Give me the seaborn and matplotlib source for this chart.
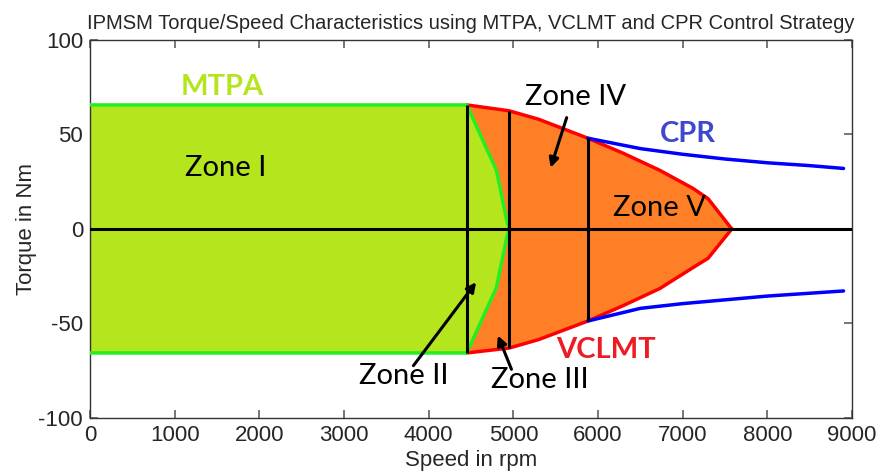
import numpy as np
import pandas as pd
import matplotlib.pyplot as plt
import seaborn as sns

# speed / torque readings
mtpa_speed = [0, 4450]
mtpa_torque = [65.6, 65.6]

# green MTPA boundary (zone II edge)
edge_speed = [4450, 4800, 4920, 4950]
edge_upper = [65.6, 31, 5, 0]
edge_lower = [-65.6, -31, -5, 0]

# VCLMT envelope
vclmt_speed = [4450, 4950, 5300, 5880, 6300, 6730, 7120, 7300, 7580]
vclmt_upper = [65.6, 62.5, 58, 48, 40, 31, 21.5, 16, 0]
vclmt_lower = [-65.6, -63, -58.5, -48.7, -40.5, -31.5, -20.5, -15.5, 0]

# CPR curves
cpr_speed = [5880, 6500, 7000, 7500, 8000, 8500, 8900]
cpr_upper = [48, 42.5, 39.5, 37, 35, 33.5, 32]
cpr_lower = [-48.7, -42, -39.5, -37.5, -35.5, -34, -32.8]

# zone borders
zone_speed = [4450, 4950, 5880]
zone_top = [65.6, 62.5, 48]
zone_bot = [-65.6, -63, -48.7]

sns.set_theme(style='white')
plt.rcParams['font.family'] = ['Liberation Sans', 'DejaVu Sans']
plt.rcParams['axes.unicode_minus'] = False

fig = plt.figure(figsize=(8.8, 4.75), dpi=100)
ax = fig.add_axes([0.1023, 0.12, 0.8659, 0.796])

green_fill = '#b5e61d'
orange_fill = '#ff7f27'

# orange zone (VCLMT region)
ax.fill_between(vclmt_speed, vclmt_lower, vclmt_upper, color=orange_fill, lw=0, zorder=1)
# green zone (MTPA region)
g_x = mtpa_speed + edge_speed[1:]
g_up = mtpa_torque + edge_upper[1:]
g_lo = [-v for v in mtpa_torque] + edge_lower[1:]
ax.fill_between(g_x, g_lo, g_up, color=green_fill, lw=0, zorder=2)

# outlines
sns.lineplot(x=vclmt_speed, y=vclmt_upper, color='#ff0000', lw=2.5, sort=False, ax=ax, zorder=3)
sns.lineplot(x=vclmt_speed, y=vclmt_lower, color='#ff0000', lw=2.5, sort=False, ax=ax, zorder=3)
sns.lineplot(x=cpr_speed, y=cpr_upper, color='#0000ff', lw=2.5, sort=False, ax=ax, zorder=3)
sns.lineplot(x=cpr_speed, y=cpr_lower, color='#0000ff', lw=2.5, sort=False, ax=ax, zorder=3)
sns.lineplot(x=g_x, y=g_up, color='#22ee22', lw=2.5, sort=False, ax=ax, zorder=4)
sns.lineplot(x=g_x, y=g_lo, color='#22ee22', lw=2.5, sort=False, ax=ax, zorder=4)

# zone borders and zero line
ax.vlines(zone_speed, zone_bot, zone_top, color='black', lw=2.2, zorder=5)
ax.axhline(0, color='black', lw=2.2, zorder=5)

ax.set_xlim(0, 9000)
ax.set_ylim(-100, 100)
ax.set_xticks(np.arange(0, 9001, 1000))
ax.set_yticks([-100, -50, 0, 50, 100])
ax.tick_params(direction='in', length=6, color='#666666', labelsize=16,
               top=True, right=True, bottom=True, left=True)
ax.tick_params(axis='x', pad=5)
ax.tick_params(axis='y', pad=5)
for s in ax.spines.values():
    s.set_color('#333333')
    s.set_linewidth(1)

ax.set_xlabel('Speed in rpm', fontsize=16, labelpad=3)
ax.set_ylabel('Torque in Nm', fontsize=16, labelpad=1)
ax.set_title('IPMSM Torque/Speed Characteristics using MTPA, VCLMT and CPR Control Strategy',
             fontsize=14.5, pad=8)

lab = dict(family=['Lato', 'DejaVu Sans'], fontsize=21, ha='center', va='center', zorder=6)
ax.text(1560, 75, 'MTPA', color='#b5e61d', fontweight='bold', **lab)
ax.text(1600, 32, 'Zone I', color='black', **lab)
ax.text(5740, 70, 'Zone IV', color='black', **lab)
ax.text(6730, 11, 'Zone V', color='black', **lab)
ax.text(3700, -78, 'Zone II', color='black', **lab)
ax.text(5310, -80, 'Zone III', color='black', **lab)
ax.text(7060, 50, 'CPR', color='#3f48cc', fontweight='bold', **lab)
ax.text(6090, -64, 'VCLMT', color='#ed1c24', fontweight='bold', **lab)

arr = dict(arrowstyle='-|>', color='black', lw=2.2, mutation_scale=14)
ax.annotate('', xy=(5430, 31), xytext=(5640, 60.3), arrowprops=arr, zorder=6)
ax.annotate('', xy=(4580, -27), xytext=(3800, -73.5), arrowprops=arr, zorder=6)
ax.annotate('', xy=(4805, -55), xytext=(4990, -75.6), arrowprops=arr, zorder=6)

plt.savefig('out.png', dpi=100)
